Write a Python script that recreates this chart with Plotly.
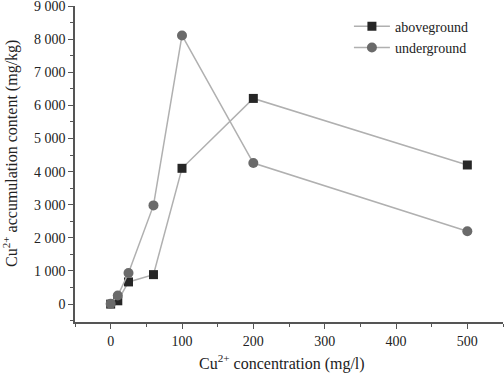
import plotly.graph_objects as go

concentration = [0, 10, 25, 60, 100, 200, 500]
aboveground = [0, 100, 670, 890, 4100, 6210, 4200]
underground = [10, 260, 940, 2980, 8110, 4260, 2200]

y_tickvals = [0, 1000, 2000, 3000, 4000, 5000, 6000, 7000, 8000, 9000]
y_ticktext = ["0", "1 000", "2 000", "3 000", "4 000", "5 000", "6 000", "7 000", "8 000", "9 000"]
x_tickvals = [0, 100, 200, 300, 400, 500]

x_title = "Cu<sup>2+</sup> concentration (mg/l)"
y_title = "Cu<sup>2+</sup> accumulation content (mg/kg)"

FONT = "Liberation Serif"
LINE = "#b0b0b0"

W, H = 504, 376
ML, MR, MT, MB = 75, 1, 6, 54

fig = go.Figure()
fig.add_trace(go.Scatter(
    x=concentration, y=aboveground, name="aboveground", mode="lines+markers",
    line=dict(color=LINE, width=1.5),
    marker=dict(symbol="square", size=9, color="#262626"),
))
fig.add_trace(go.Scatter(
    x=concentration, y=underground, name="underground", mode="lines+markers",
    line=dict(color=LINE, width=1.5),
    marker=dict(symbol="circle", size=10, color="#6a6a6a"),
))

axis_common = dict(
    showline=True, linecolor="#555", linewidth=1.5, showgrid=False, zeroline=False,
    ticks="outside", ticklen=5, tickwidth=1.2, tickcolor="#555",
    tickfont=dict(family=FONT, size=14, color="#222"),
    mirror=False, automargin=False, ticklabeloverflow="allow",
)

fig.update_xaxes(
    range=[-50, 550], tickvals=x_tickvals,
    minor=dict(ticks="outside", ticklen=3, tickcolor="#555", dtick=50, tick0=0),
    **axis_common,
)
fig.update_yaxes(
    range=[-540, 9000], tickvals=y_tickvals, ticktext=y_ticktext,
    minor=dict(ticks="outside", ticklen=3, tickcolor="#555", dtick=500, tick0=0),
    **axis_common,
)

pw = W - ML - MR
ph = H - MT - MB
fig.add_annotation(
    text=x_title, xref="paper", yref="paper",
    x=(282 - ML) / pw, y=-(362 - (H - MB)) / ph,
    xanchor="center", yanchor="middle", showarrow=False,
    font=dict(family=FONT, size=16, color="#222"),
)
fig.add_annotation(
    text=y_title, xref="paper", yref="paper", textangle=-90,
    x=-(ML - 10) / pw, y=1 - (154 - MT) / ph,
    xanchor="center", yanchor="middle", showarrow=False,
    font=dict(family=FONT, size=16, color="#222"),
)

fig.update_layout(
    width=W, height=H,
    margin=dict(l=ML, r=MR, t=MT, b=MB),
    paper_bgcolor="white", plot_bgcolor="white",
    font=dict(family=FONT, color="#222"),
    legend=dict(x=0.64, y=0.985, xanchor="left", yanchor="top",
                font=dict(family=FONT, size=14, color="#222"),
                bgcolor="rgba(0,0,0,0)", tracegroupgap=0, itemwidth=36),
    showlegend=True,
)

fig.write_html("out.html", config={"displayModeBar": False},
               post_script="document.body.style.margin='0';")
